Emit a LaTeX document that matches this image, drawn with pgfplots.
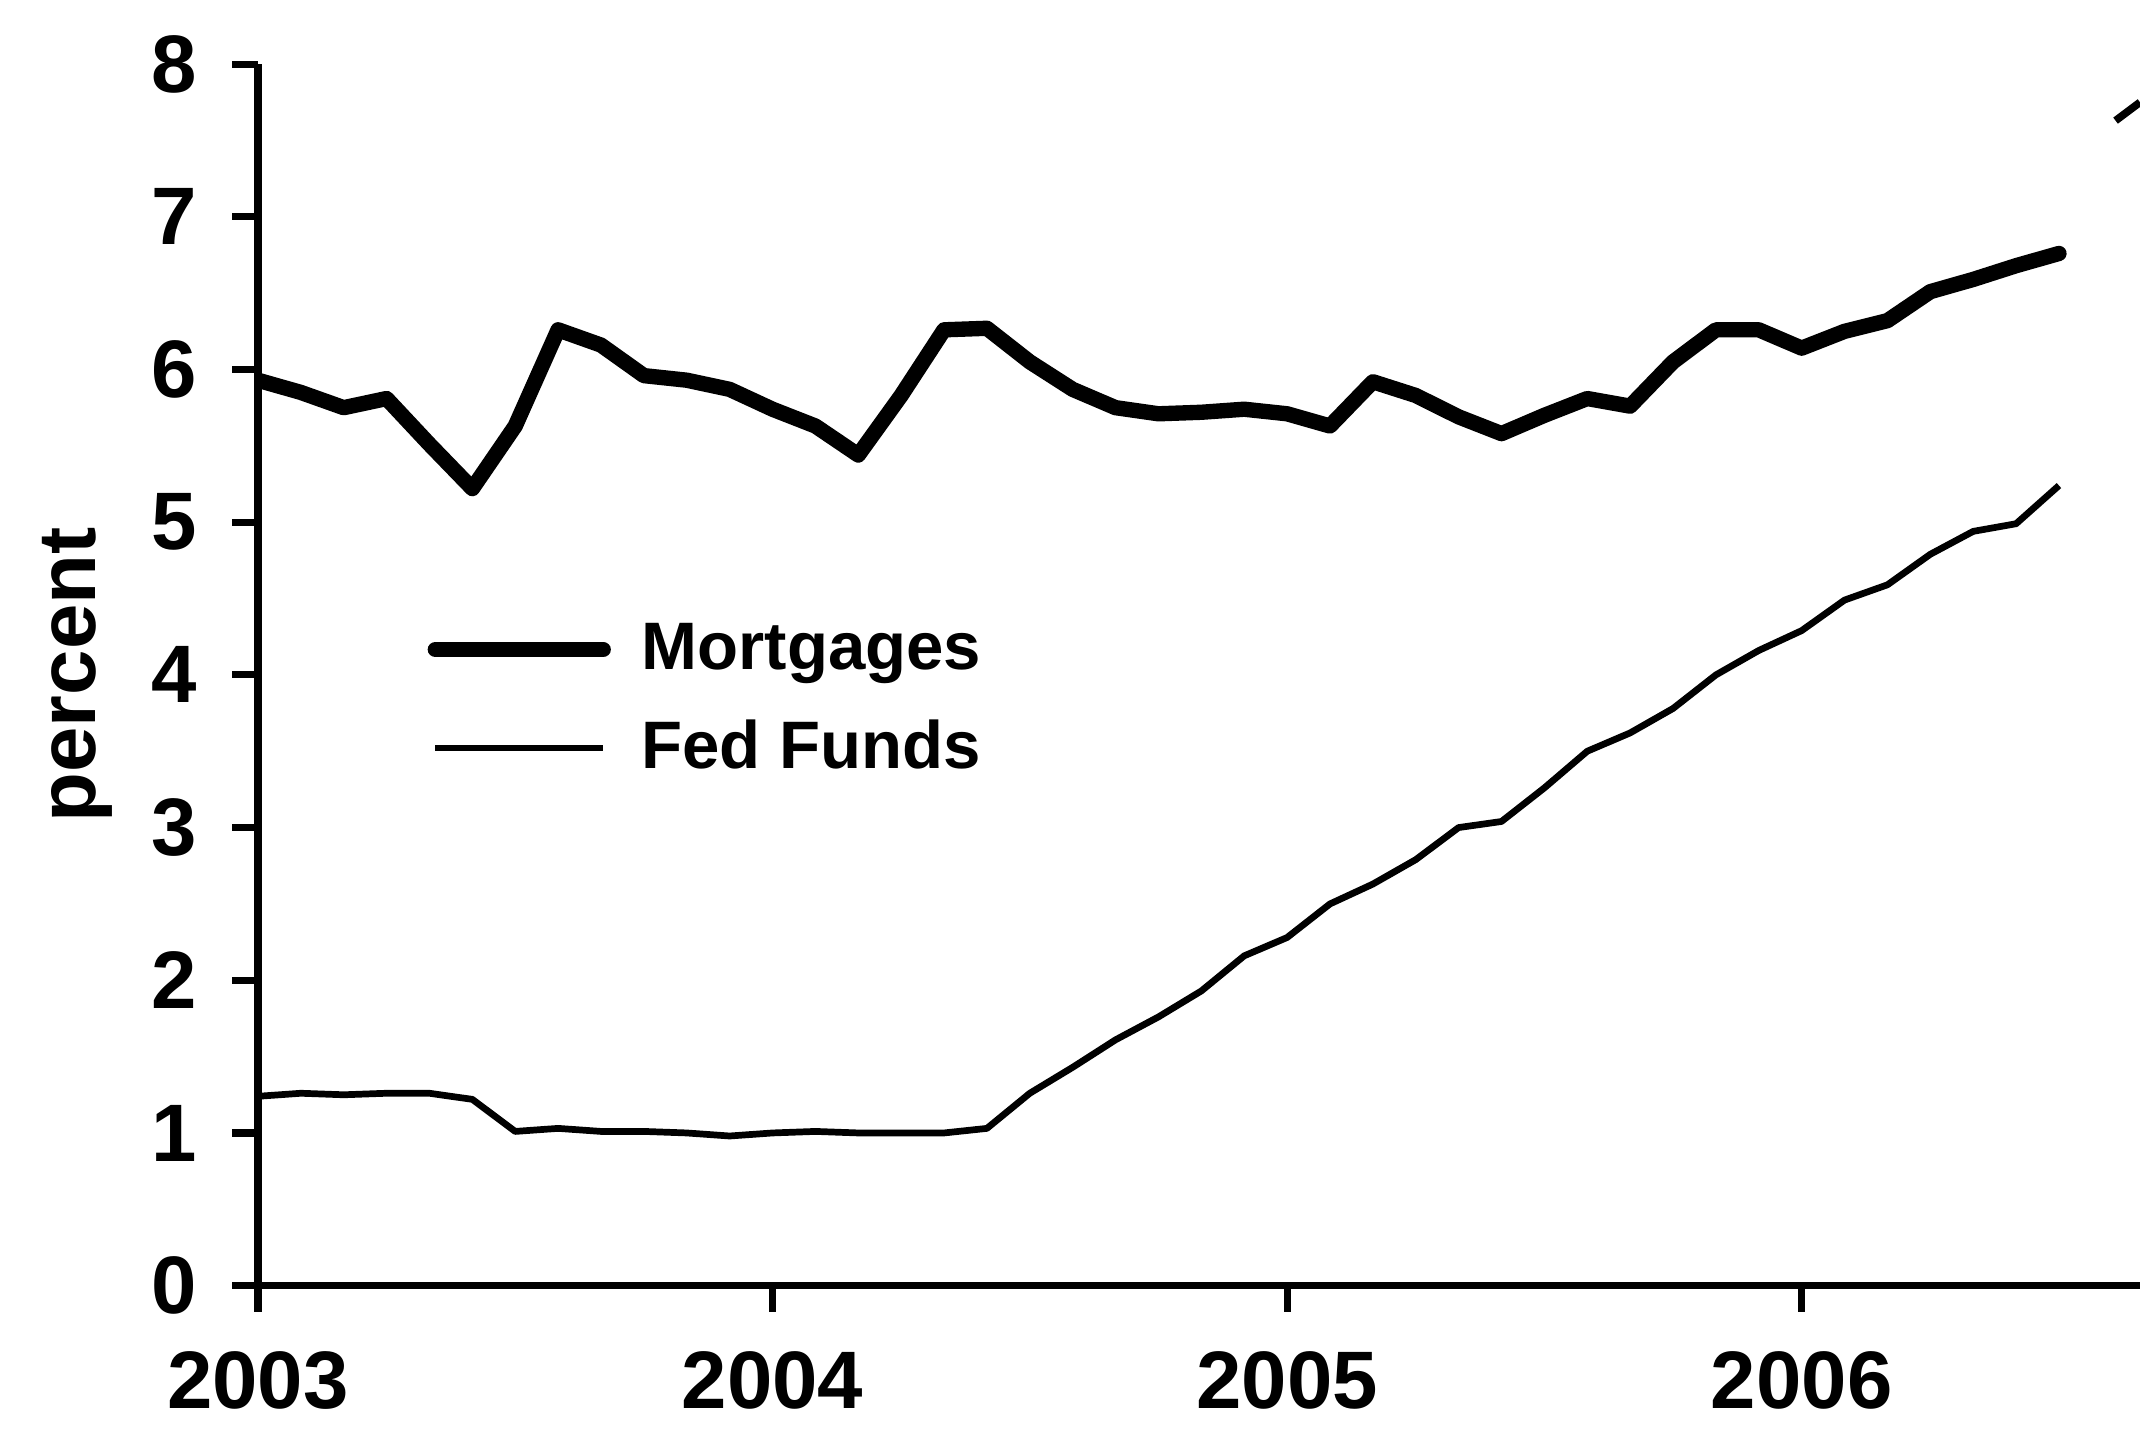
\documentclass[border=0pt]{standalone}
\usepackage{fontspec}
\setmainfont{Liberation Sans}
\usepackage{pgfplots}
\usepackage{pgfplotstable}
\pgfplotsset{compat=1.18}
\pgfplotstableread{
m mort fed
0 5.93 1.24
1 5.85 1.26
2 5.75 1.25
3 5.81 1.26
4 5.51 1.26
5 5.22 1.22
6 5.63 1.01
7 6.26 1.03
8 6.16 1.01
9 5.96 1.01
10 5.93 1.00
11 5.87 0.98
12 5.74 1.00
13 5.63 1.01
14 5.44 1.00
15 5.83 1.00
16 6.26 1.00
17 6.27 1.03
18 6.05 1.26
19 5.87 1.43
20 5.75 1.61
21 5.71 1.76
22 5.72 1.93
23 5.74 2.16
24 5.71 2.28
25 5.63 2.50
26 5.92 2.63
27 5.83 2.79
28 5.69 3.00
29 5.58 3.04
30 5.70 3.26
31 5.81 3.50
32 5.76 3.62
33 6.05 3.78
34 6.26 4.00
35 6.26 4.16
36 6.14 4.29
37 6.25 4.49
38 6.32 4.59
39 6.51 4.79
40 6.59 4.94
41 6.68 4.99
42 6.76 5.24
}\datatable
\begin{document}
\begin{tikzpicture}
\begin{axis}[
  scale only axis, width=13.79cm, height=8.95cm,
  xmin=0, xmax=43.89, ymin=0, ymax=8,
  axis x line=bottom, axis y line=left,
  axis line style={-, line width=1.5pt},
  tick align=outside, major tick length=0.19cm,
  tick style={line width=1.5pt, black},
  xtick={0,12,24,36}, xticklabels={2003,2004,2005,2006},
  ytick={0,1,...,8},
  /pgf/number format/assume math mode=true,
  xticklabel style={font=\bfseries\fontsize{17}{20}\selectfont, yshift=-0.17cm},
  yticklabel style={font=\bfseries\fontsize{17}{20}\selectfont, xshift=-0.13cm},
  ylabel={percent},
  ylabel style={at={(axis description cs:-0.096,0.5)}, anchor=center, font=\bfseries\fontsize{17}{20}\selectfont},
  legend style={draw=none, fill=none, at={(axis cs:3.6,3.84)}, anchor=west,
    font=\bfseries\fontsize{14}{16}\selectfont, nodes={inner sep=1pt}, row sep=0.25cm,
    /tikz/every odd column/.append style={column sep=0.19cm}},
  legend cell align=left,
  legend image code/.code={\draw[#1] (0.05cm,0cm) -- (1.28cm,0cm);},
]
\addplot[black, line width=3.2pt, line cap=round, line join=round] table[x=m, y=mort] {\datatable};
\addlegendentry{Mortgages}
\addplot[black, line width=1.4pt, line join=round] table[x=m, y=fed] {\datatable};
\addlegendentry{Fed Funds}
\addplot[black, line width=1.6pt, forget plot] coordinates {(43.32,7.63) (43.89,7.75)};
\end{axis}
\pgfresetboundingbox
\path ([xshift=-1.89cm, yshift=-1.23cm]current axis.south west) rectangle ([yshift=0.47cm]current axis.north east);
\end{tikzpicture}
\end{document}
